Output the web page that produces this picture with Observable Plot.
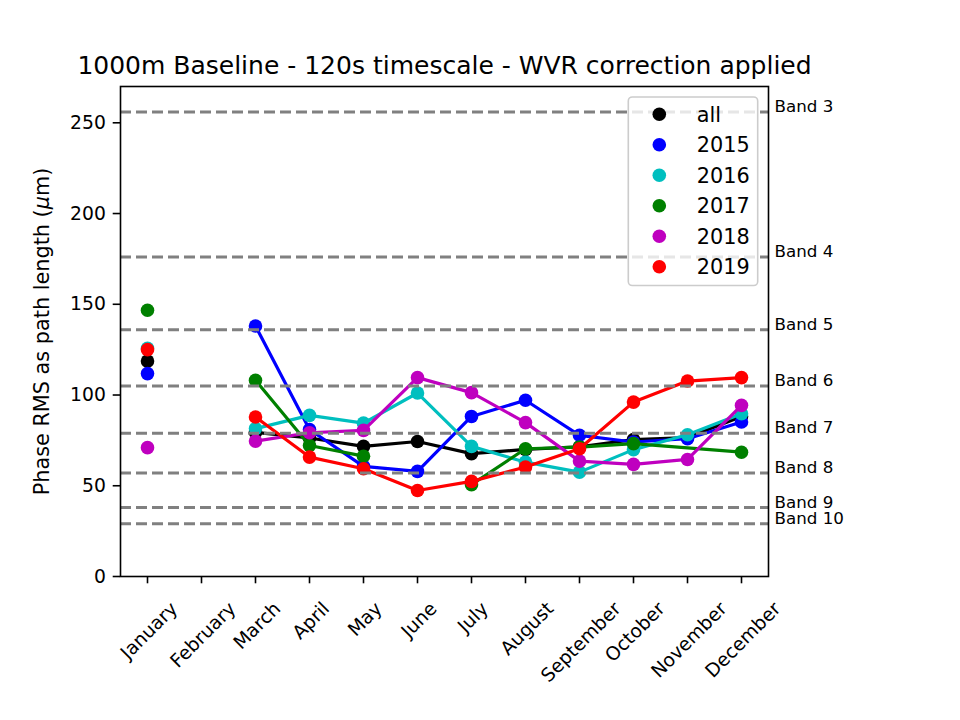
<!DOCTYPE html>
<html>
<head>
<meta charset="utf-8">
<script src="https://cdn.jsdelivr.net/npm/d3@7"></script>
<script src="https://cdn.jsdelivr.net/npm/@observablehq/plot@0.6"></script>
<style>
  body { margin: 0; background: #ffffff; }
  #chart svg { font-family: "DejaVu Sans", sans-serif; }
</style>
</head>
<body>
<div id="chart"></div>
<script>
// ---------- data ----------
const months = ["January","February","March","April","May","June","July","August","September","October","November","December"];
const months2017 = months.filter(m => m !== "November");

const seriesNames = ["all", "2015", "2016", "2017", "2018", "2019"];
const seriesColors = ["#000000", "#0000ff", "#00bfbf", "#008000", "#bf00bf", "#ff0000"];

const valuesAll  = [118.7, null, 79.4, 76.3, 71.7, 74.4, 67.7, 70.0, 71.5, 75.4, 76.6, 88.2];
const values2015 = [111.8, null, 138.0, 81.0, 60.7, 57.9, 88.2, 97.1, 77.8, 74.1, 75.9, 85.1];
const values2016 = [125.8, null, 81.5, 88.8, 84.5, 101.1, 71.7, 63.0, 57.5, 69.9, 78.1, 89.7];
const values2017 = [146.7, null, 108.1, 72.2, 66.3, null, 50.6, 70.4, 71.3, 73.2, 68.5]; // over months2017
const values2018 = [71.0, null, 74.6, 79.2, 80.5, 109.6, 101.3, 84.8, 63.6, 61.8, 64.5, 94.3];
const values2019 = [125.0, null, 87.9, 65.8, 59.4, 47.4, 52.4, 60.3, 70.4, 96.1, 107.7, 109.6];

const seriesMonths = [months, months, months, months2017, months, months];
const seriesValues = [valuesAll, values2015, values2016, values2017, values2018, values2019];

const bandNames  = ["Band 3", "Band 4", "Band 5", "Band 6", "Band 7", "Band 8", "Band 9", "Band 10"];
const bandValues = [256, 176, 136, 105, 79, 57, 38, 29];

const yTicks = [0, 50, 100, 150, 200, 250];
const titleText = "1000m Baseline - 120s timescale - WVR correction applied";
const yLabelText = "Phase RMS as path length (μm)";

// ---------- layout ----------
const W = 960, H = 720;
const mL = 120, mR = 192, mT = 86, mB = 144;

const bandRows = bandNames.map((name, i) => ({name, value: bandValues[i]}));

const marks = [];
seriesNames.forEach((name, s) => {
  const rows = seriesMonths[s].map((m, i) => ({series: name, month: m, value: seriesValues[s][i]}));
  marks.push(Plot.line(rows, {x: "month", y: "value", stroke: seriesColors[s], strokeWidth: 3.2, strokeLinejoin: "round"}));
  marks.push(Plot.dot(rows, {x: "month", y: "value", fill: seriesColors[s], stroke: "none", r: 6.8}));
});

const plot = Plot.plot({
  width: W,
  height: H,
  marginLeft: mL,
  marginRight: mR,
  marginTop: mT,
  marginBottom: mB,
  style: {background: "#ffffff", fontFamily: "DejaVu Sans, sans-serif", color: "#000000"},
  x: {type: "point", domain: months, padding: 0.5},
  y: {domain: [0, 270]},
  marks: [
    ...marks,
    Plot.ruleY(bandRows, {y: "value", stroke: "#808080", strokeWidth: 3, strokeDasharray: "11,5"}),
    Plot.text(bandRows, {y: "value", text: "name", frameAnchor: "right", dx: 6, textAnchor: "start", lineAnchor: "bottom", fontSize: 16.7, fill: "#000000"}),
    Plot.axisY({ticks: yTicks, tickSize: 7.3, tickPadding: 7.3, fontSize: 18.75, label: null, strokeWidth: 1.6}),
    Plot.axisX({tickSize: 7.3, tickPadding: 7.3, fontSize: 18.75, tickRotate: -45, label: null, strokeWidth: 1.6}),
    Plot.frame({stroke: "#000000", strokeWidth: 1.6}),
    Plot.text([titleText], {text: d => d, frameAnchor: "top", dy: -12.5, lineAnchor: "bottom", textAnchor: "middle", fontSize: 25, fill: "#000000"}),
    Plot.text([yLabelText], {text: d => d, frameAnchor: "left", dx: -71.6, rotate: -90, lineAnchor: "bottom", textAnchor: "middle", fontSize: 20.8, fill: "#000000"})
  ]
});

document.getElementById("chart").appendChild(plot);
const svg = d3.select(plot);

// x tick labels: matplotlib-style centered 45° rotation
const xs = plot.scale("x");
const fs = 18.75;
const topY = H - mB + 14.6;
svg.selectAll('g[aria-label="x-axis tick label"]').each(function() {
  d3.select(this).attr("transform", null);
  d3.select(this).selectAll("text").each(function() {
    const label = this.textContent;
    const L = this.getComputedTextLength();
    const x = xs.apply(label) - 2.5;
    const cy = topY + (L + 1.164 * fs) / (2 * Math.SQRT2) + 2.7;
    d3.select(this)
      .attr("transform", `translate(${x},${cy}) rotate(-45)`)
      .attr("text-anchor", "middle")
      .attr("dy", "0.35em");
  });
});

// y label with italic mu
svg.selectAll("text").filter(function() { return this.textContent === yLabelText; }).each(function() {
  const t = d3.select(this);
  t.text(null);
  t.append("tspan").text("Phase RMS as path length (");
  t.append("tspan").attr("font-style", "italic").text("μ");
  t.append("tspan").text("m)");
});

// legend
const lg = svg.append("g").attr("font-family", "DejaVu Sans, sans-serif").attr("text-anchor", "start");
const lgX = W - mR - 139.7, lgY = mT + 11;
lg.append("rect")
  .attr("x", lgX).attr("y", lgY).attr("width", 129.4).attr("height", 188.5)
  .attr("rx", 4).attr("fill", "#ffffff").attr("fill-opacity", 0.8)
  .attr("stroke", "#cccccc").attr("stroke-width", 1.6);
seriesNames.forEach((name, i) => {
  const cy = lgY + 17.3 + i * 30.48;
  lg.append("circle").attr("cx", lgX + 31).attr("cy", cy).attr("r", 6.8).attr("fill", seriesColors[i]);
  lg.append("text").attr("x", lgX + 68.4).attr("y", cy).attr("dy", "0.35em")
    .attr("text-anchor", "start")
    .attr("font-size", 20.8).attr("fill", "#000000").text(name);
});
</script>
</body>
</html>
